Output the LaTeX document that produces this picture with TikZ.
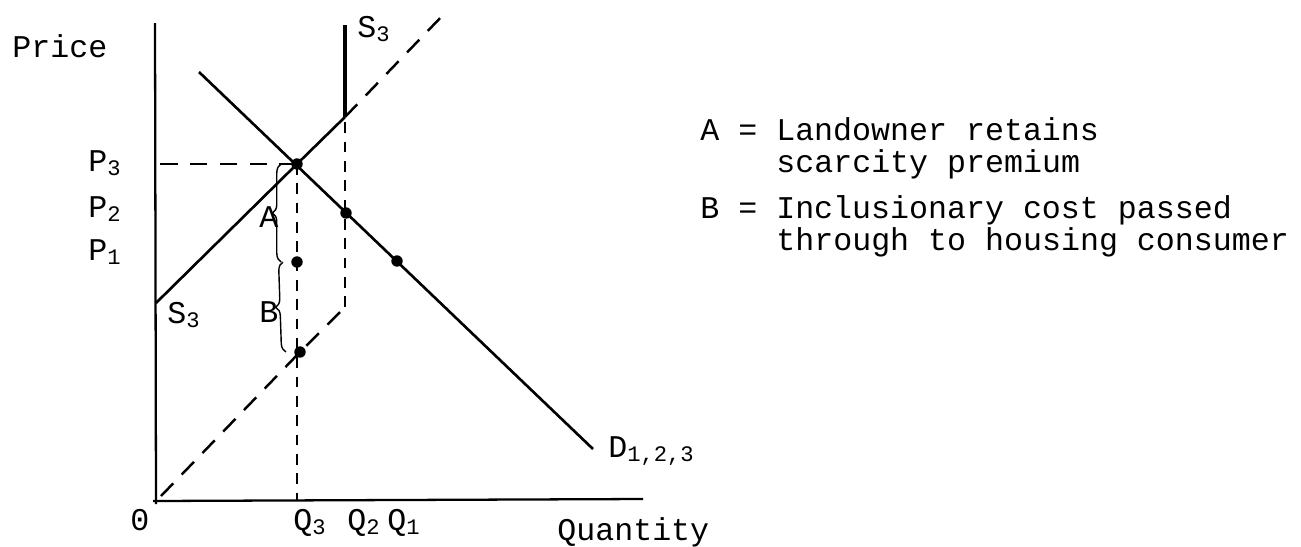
\documentclass[tikz,border=0pt]{standalone}
\usepackage{fontspec}
\setmonofont{Liberation Mono}
\usetikzlibrary{positioning,decorations.pathreplacing}

\begin{document}
\begin{tikzpicture}[
  x=0.2mm, y=-0.2mm,
  every node/.style={font=\fontsize{18}{18}\selectfont\ttfamily,inner sep=0pt},
  axis/.style={line width=1.3pt},
  curve/.style={line width=1.5pt},
  guide/.style={line width=1.4pt,dash pattern=on 10pt off 7pt},
  vguide/.style={line width=1.3pt,dash pattern=on 6pt off 5pt},
  dot/.style={circle,fill=black,minimum size=6.5pt,inner sep=0pt},
  lab/.style={anchor=base west},
  gap/.style={decorate,decoration={brace,amplitude=5pt},line width=0.8pt},
]
  \useasboundingbox (0,0) rectangle (1301,546);

  % Axes
  \coordinate (O) at (156,501);
  \coordinate (yTop) at (155,23);
  \coordinate (xEnd) at (643,499);
  \draw[axis] (yTop) -- (156,504);
  \draw[axis] (153,501) -- (xEnd);

  % Key points
  \coordinate (sLow) at (156,303);
  \coordinate (E3) at (297,164);
  \coordinate (kink) at (345,117);
  \coordinate (sTop) at (345,25);
  \coordinate (dTop) at (199,72);
  \coordinate (dEnd) at (593,449);
  \coordinate (E2) at (346,213);
  \coordinate (E1) at (397,261);
  \coordinate (mA) at (297,262);
  \coordinate (mB) at (300,352);
  \coordinate (sBase) at (161,496);
  \coordinate (cor) at (345,307);
  \coordinate (sEnd) at (445,13);

  % Supply S3 (solid) and its vertical part
  \draw[curve] (sLow) -- (E3) -- (kink);
  \draw[line width=2.6pt] (kink) -- (sTop);

  % Demand D1,2,3
  \draw[curve] (dTop) -- (dEnd);

  % Dashed supply before the cap
  \draw[guide] (sBase) -- (mB) -- (cor);
  \draw[vguide] (cor) -- (kink);
  \draw[guide] (kink) -- (sEnd);

  % Guides to the axes
  \draw[guide] (E3) -- (E3 -| O);
  \draw[vguide] (E3) -- (E3 |- O);

  % Points
  \foreach \p in {E3,E2,E1,mA,mB}
    \node[dot] (d\p) at (\p) {};

  % Braces A and B
  \draw[gap] ([xshift=-9]mA) -- ([xshift=-9]E3);
  \draw[gap] ([xshift=-8]mB) -- ([xshift=-8]mA);
  \node[lab] (labA) at (259,227) {A};
  \node[lab] (labB) at (259,322) {B};

  % Axis labels
  \node[lab] (price) at (12,57) {Price};
  \node[lab] (p3) at (88,171) {P\textsubscript{3}};
  \node[lab] (p2) at (88,217) {P\textsubscript{2}};
  \node[lab] (p1) at (88,260) {P\textsubscript{1}};
  \node[lab] (zero) at (130,530) {0};
  \node[lab] (q3) at (293,530) {Q\textsubscript{3}};
  \node[lab] (q2) at (347,530) {Q\textsubscript{2}};
  \node[lab] (q1) at (387,530) {Q\textsubscript{1}};
  \node[lab] (qty) at (557,540) {Quantity};

  % Curve labels
  \node[lab] (s3hi) at (357,37) {S\textsubscript{3}};
  \node[lab] (s3lo) at (167,323) {S\textsubscript{3}};
  \node[lab] (dlab) at (608,457) {D\textsubscript{1,2,3}};

  % Legend
  \node[lab] (legA1) at (700,140) {A = Landowner retains};
  \node[lab] (legA2) at (776,172) {scarcity premium};
  \node[lab] (legB1) at (700,218) {B = Inclusionary cost passed};
  \node[lab] (legB2) at (776,250) {through to housing consumer};
\end{tikzpicture}
\end{document}
